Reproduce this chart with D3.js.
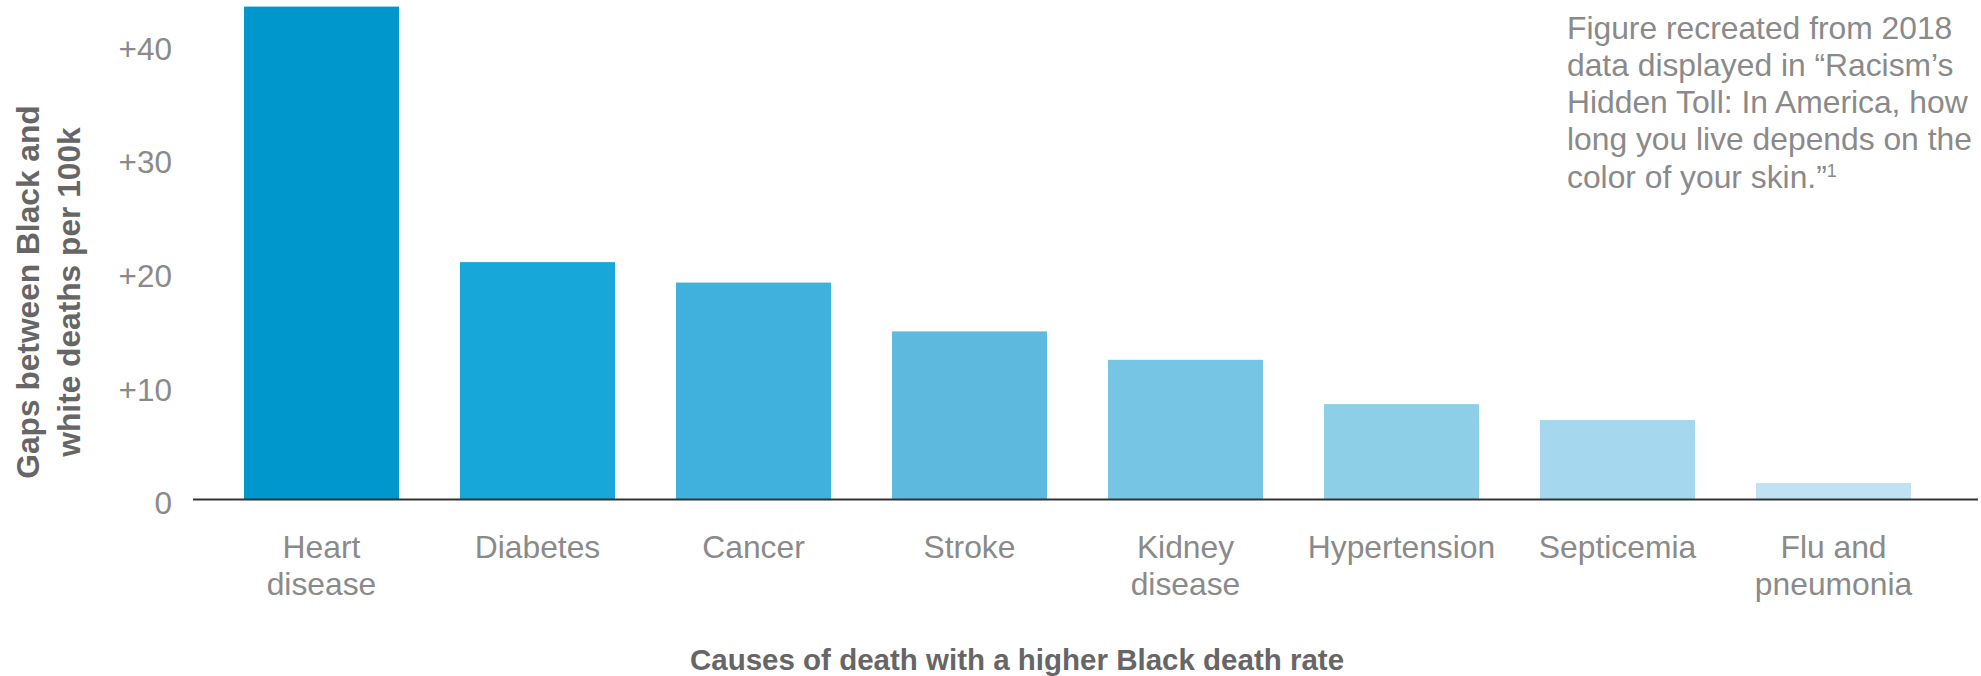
<!DOCTYPE html>
<html>
<head>
<meta charset="utf-8">
<script src="https://cdn.jsdelivr.net/npm/d3@7"></script>
<style>
  html, body { margin: 0; padding: 0; background: #ffffff; }
  svg { display: block; }
  text { font-family: "Liberation Sans", Arial, Helvetica, sans-serif; }
</style>
</head>
<body>
<svg id="chart" width="1981" height="676"></svg>
<script>
// ---- Data ----
const categories = [
  ["Heart", "disease"],
  ["Diabetes"],
  ["Cancer"],
  ["Stroke"],
  ["Kidney", "disease"],
  ["Hypertension"],
  ["Septicemia"],
  ["Flu and", "pneumonia"]
];
const gapValues = [43.4, 20.9, 19.1, 14.8, 12.3, 8.4, 7.0, 1.45];
const yTicks = [0, 10, 20, 30, 40];
const barColors = ["#0098cc", "#17a7d9", "#40b0dd", "#5eb9df", "#77c5e5", "#8dcfe6", "#a5d8ee", "#c0e3f3"];
const yTitleLines = ["Gaps between Black and", "white deaths per 100k"];
const xTitle = "Causes of death with a higher Black death rate";
const noteLines = [
  "Figure recreated from 2018",
  "data displayed in \u201cRacism\u2019s",
  "Hidden Toll: In America, how",
  "long you live depends on the",
  "color of your skin.\u201d"
];
const noteSup = "1";

// ---- Layout ----
const svg = d3.select("#chart");
const keys = categories.map((c, i) => i);

const x = d3.scaleBand()
  .domain(keys)
  .range([213.5, 1941.5])
  .paddingInner(0.2824)
  .paddingOuter(0.1412);

const y = d3.scaleLinear()
  .domain([0, 40])
  .range([499.5, 45.2]);

// bars
svg.append("g")
  .selectAll("rect")
  .data(gapValues)
  .join("rect")
  .attr("x", (d, i) => x(i))
  .attr("width", x.bandwidth())
  .attr("y", d => y(d))
  .attr("height", d => y(0) - y(d))
  .attr("fill", (d, i) => barColors[i]);

// baseline axis line
svg.append("line")
  .attr("x1", 193).attr("x2", 1978)
  .attr("y1", y(0)).attr("y2", y(0))
  .attr("stroke", "#333333")
  .attr("stroke-width", 2);

// y axis ticks
const yAxis = d3.axisLeft(y)
  .tickValues(yTicks)
  .tickSize(0)
  .tickPadding(21)
  .tickFormat(d => d === 0 ? "0" : "+" + d);

const gy = svg.append("g")
  .attr("transform", "translate(193,0)")
  .call(yAxis);
gy.select(".domain").remove();
gy.selectAll("text")
  .attr("font-family", "Liberation Sans, Arial, sans-serif")
  .attr("font-size", 31.5)
  .attr("fill", "#8a8a8a")
  .attr("dy", "0.45em");

// category labels
const catG = svg.append("g");
categories.forEach((lines, i) => {
  const t = catG.append("text")
    .attr("x", x(i) + x.bandwidth() / 2)
    .attr("y", 558)
    .attr("text-anchor", "middle")
    .attr("font-size", 31.8)
    .attr("fill", "#8a8a8a");
  lines.forEach((ln, j) => {
    t.append("tspan")
      .attr("x", x(i) + x.bandwidth() / 2)
      .attr("dy", j === 0 ? 0 : 37)
      .text(ln);
  });
});

// x title
svg.append("text")
  .attr("x", 1017)
  .attr("y", 670)
  .attr("text-anchor", "middle")
  .attr("font-size", 29.5)
  .attr("font-weight", "bold")
  .attr("fill", "#666666")
  .text(xTitle);

// y title
const yt = svg.append("text")
  .attr("transform", "translate(0,292) rotate(-90)")
  .attr("text-anchor", "middle")
  .attr("font-size", 31.7)
  .attr("font-weight", "bold")
  .attr("fill", "#666666");
yTitleLines.forEach((ln, j) => {
  yt.append("tspan")
    .attr("x", 0)
    .attr("y", j === 0 ? 39 : 80)
    .text(ln);
});

// note
const note = svg.append("text")
  .attr("x", 1567)
  .attr("y", 38.5)
  .attr("font-size", 31.8)
  .attr("fill", "#8a8a8a");
noteLines.forEach((ln, j) => {
  note.append("tspan")
    .attr("x", 1567)
    .attr("dy", j === 0 ? 0 : 37.3)
    .text(ln);
});
note.append("tspan")
  .attr("font-size", 18)
  .attr("dy", -11)
  .text(noteSup);
</script>
</body>
</html>
